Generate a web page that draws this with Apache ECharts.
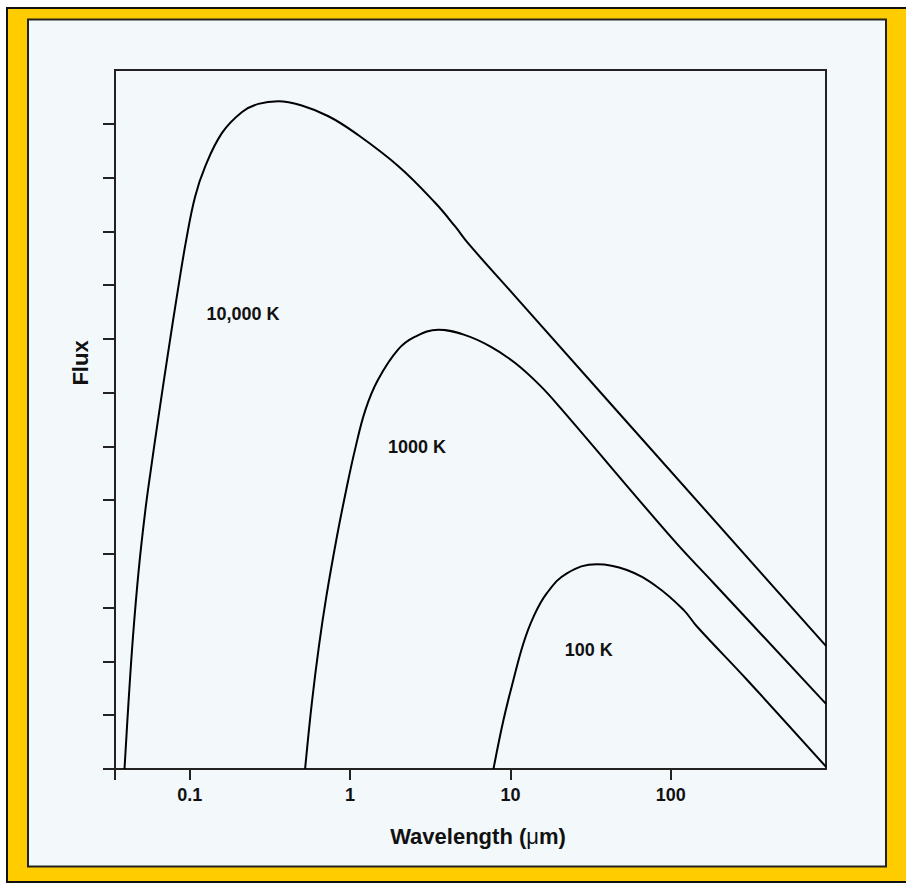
<!DOCTYPE html>
<html>
<head>
<meta charset="utf-8">
<script src="https://cdn.jsdelivr.net/npm/echarts@6/dist/echarts.min.js"></script>
<style>
html,body{margin:0;padding:0;background:#ffffff;}
#chart{width:906px;height:888px;}
</style>
</head>
<body>
<div id="chart"></div>
<script>
// ---- data ----
const wavelengthTicks = [0.1, 1, 10, 100];          // labelled x ticks (µm)
const wavelengthRange = [0.0342, 928];               // x axis extent (µm)
const fluxTicks = [0, 1, 2, 3, 4, 5, 6, 7, 8, 9, 10, 11, 12];
const fluxRange = [0, 13];

const curveNames = ['10,000 K', '1000 K', '100 K'];

const wl10000   = [0.0392, 0.0415, 0.04427, 0.04806, 0.05261, 0.05718, 0.06307, 0.07268, 0.08437, 0.0951, 0.1079, 0.1246, 0.159, 0.212, 0.268, 0.357, 0.4995, 0.7323, 1.075, 2.001, 3.391, 4.519, 5.47, 10.7, 928];
const flux10000 = [0, 1.23, 2.46, 3.70, 4.76, 5.56, 6.44, 7.67, 8.91, 9.84, 10.64, 11.20, 11.83, 12.22, 12.37, 12.42, 12.34, 12.14, 11.83, 11.21, 10.53, 10.09, 9.77, 8.79, 2.29];

const wl1000    = [0.524, 0.577, 0.6389, 0.7112, 0.8273, 0.9455, 1.073, 1.246, 1.493, 1.99, 2.544, 3.555, 5.218, 7.47, 10.7, 15.32, 20.42, 103.9, 184.6, 928];
const flux1000  = [0, 1.22, 2.28, 3.21, 4.32, 5.19, 5.94, 6.68, 7.24, 7.80, 8.04, 8.17, 8.07, 7.86, 7.55, 7.13, 6.72, 4.26, 3.46, 1.21];

const wl100     = [7.834, 9.045, 10.44, 12.05, 13.92, 16.87, 22.48, 34.59, 53.24, 81.9, 120.0, 145.5, 298.3, 928];
const flux100   = [0, 0.91, 1.66, 2.34, 2.83, 3.27, 3.64, 3.81, 3.70, 3.39, 2.96, 2.65, 1.66, 0.04];

const labelWl   = [0.1264, 1.708, 21.63];
const labelFlux = [8.465, 5.996, 2.214];

// ---- chart ----
const FONT = '"Liberation Sans", Arial, Helvetica, sans-serif';
const zip = (a, b) => a.map((v, i) => [v, b[i]]);
const curves = [zip(wl10000, flux10000), zip(wl1000, flux1000), zip(wl100, flux100)];

const chart = echarts.init(document.getElementById('chart'), null, {renderer: 'svg'});

const series = curves.map((d, i) => ({
  type: 'line',
  name: curveNames[i],
  data: d,
  showSymbol: false,
  symbol: 'none',
  smooth: 0.4,
  lineStyle: {color: '#000', width: 2},
  markPoint: {
    symbol: 'circle',
    symbolSize: 1,
    itemStyle: {color: 'rgba(0,0,0,0)'},
    data: [{coord: [labelWl[i], labelFlux[i]], value: curveNames[i]}],
    label: {
      show: true, position: 'right', distance: 0,
      formatter: curveNames[i],
      fontFamily: FONT, fontSize: 18, fontWeight: 'bold', color: '#111'
    }
  }
}));

chart.setOption({
  animation: false,
  graphic: [
    {type: 'rect', z: -100, silent: true,
     shape: {x: 7, y: 8, width: 920, height: 874},
     style: {fill: '#FFCC00', stroke: '#111', lineWidth: 2}},
    {type: 'rect', z: -99, silent: true,
     shape: {x: 28, y: 19.5, width: 858, height: 847},
     style: {fill: '#F3F8FB', stroke: '#222', lineWidth: 2}},
    {type: 'text', x: 80, y: 363, rotation: Math.PI / 2,
     style: {text: 'Flux', font: 'bold 22px ' + FONT, fill: '#111', align: 'center', verticalAlign: 'middle'}}
  ],
  grid: {
    left: 115, right: 80, top: 70, bottom: 119,
    show: true, borderColor: '#222', borderWidth: 2, backgroundColor: 'transparent',
    containLabel: false
  },
  xAxis: {
    type: 'log', logBase: 10,
    min: wavelengthRange[0], max: wavelengthRange[1],
    axisLine: {show: true, lineStyle: {color: '#222', width: 2}},
    axisTick: {show: true, inside: false, length: 11, lineStyle: {color: '#222', width: 2},
               customValues: [wavelengthRange[0]].concat(wavelengthTicks)},
    axisLabel: {customValues: wavelengthTicks, margin: 17, fontFamily: FONT, fontSize: 18,
                fontWeight: 'bold', color: '#111', formatter: v => String(+(+v).toPrecision(6))},
    splitLine: {show: false},
    minorTick: {show: false},
    name: '{b|Wavelength (}{m|\u03bc}{b|m)}',
    nameLocation: 'middle',
    nameGap: 56,
    nameTextStyle: {
      padding: [0, 0, 0, 15],
      rich: {
        b: {fontFamily: FONT, fontSize: 22, fontWeight: 'bold', color: '#111'},
        m: {fontFamily: FONT, fontSize: 22, fontWeight: 'normal', color: '#111'}
      }
    }
  },
  yAxis: {
    type: 'value', min: fluxRange[0], max: fluxRange[1], interval: 1,
    axisLine: {show: true, lineStyle: {color: '#222', width: 2}},
    axisTick: {show: true, inside: false, length: 12, lineStyle: {color: '#222', width: 2},
               customValues: fluxTicks},
    axisLabel: {show: false},
    splitLine: {show: false}
  },
  series: series
});
</script>
</body>
</html>
